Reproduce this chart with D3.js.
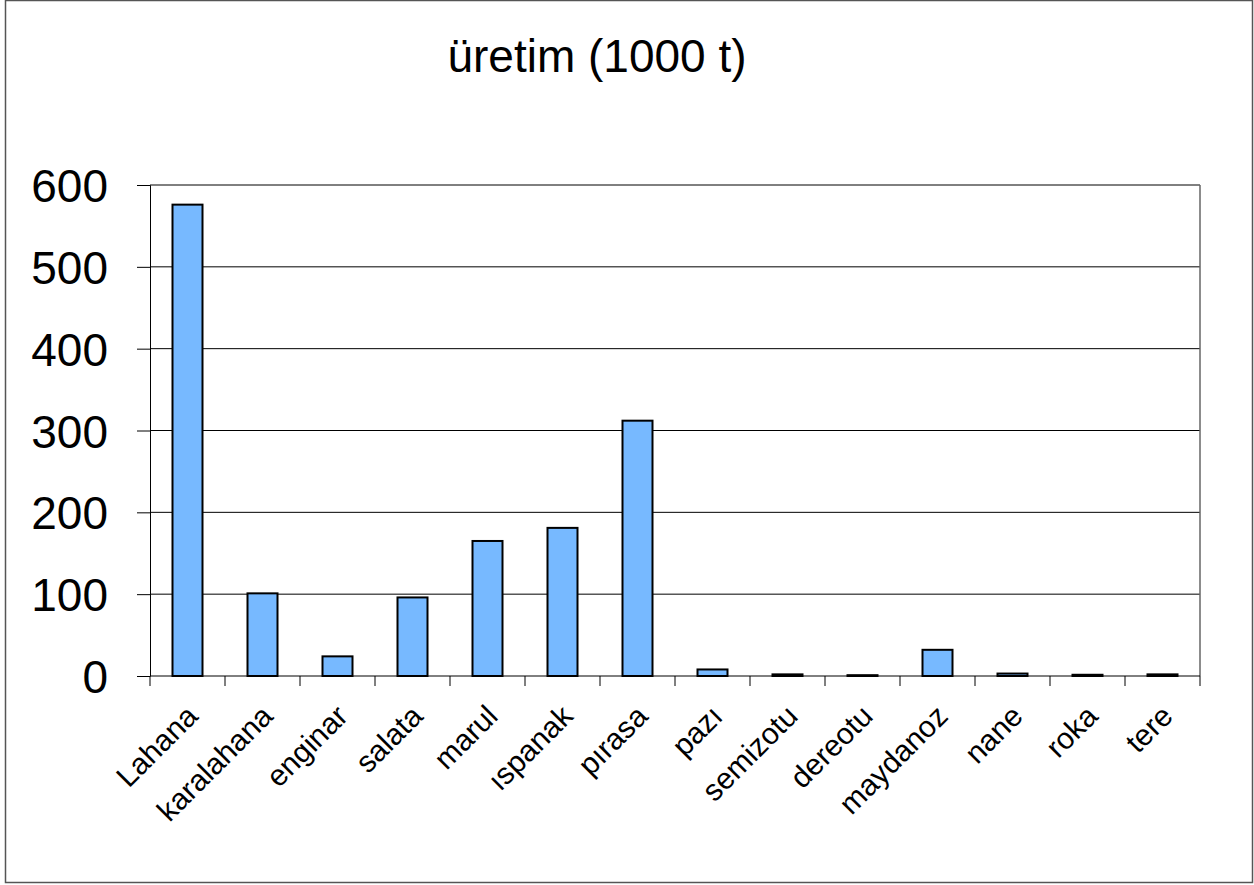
<!DOCTYPE html>
<html>
<head>
<meta charset="utf-8">
<script src="https://cdn.jsdelivr.net/npm/d3@7"></script>
<style>
  body { margin: 0; background: #fff; }
  svg { display: block; font-family: "Liberation Sans", Arial, sans-serif; }
</style>
</head>
<body>
<div id="chart"></div>
<script>
// data
var categories = ['Lahana', 'karalahana', 'enginar', 'salata', 'marul', 'ıspanak', 'pırasa',
  'pazı', 'semizotu', 'dereotu', 'maydanoz', 'nane', 'roka', 'tere'];
var production = [576, 101, 24, 96, 165, 181, 312, 8, 2, 1, 32, 3, 1.5, 2];
var yTicks = [0, 100, 200, 300, 400, 500, 600];

var fullWidth = 1254, fullHeight = 885;
var margin = {top: 185, right: 54, bottom: 209, left: 150};
var width = fullWidth - margin.left - margin.right;
var height = fullHeight - margin.top - margin.bottom;

var svg = d3.select('#chart').append('svg')
  .attr('width', fullWidth)
  .attr('height', fullHeight);

// outer frame
svg.append('rect')
  .attr('x', 5.5).attr('y', 0.5)
  .attr('width', fullWidth - 7).attr('height', fullHeight - 3)
  .attr('fill', '#fff')
  .attr('stroke', '#555')
  .attr('stroke-width', 1.5);

svg.append('text')
  .attr('x', 597).attr('y', 72)
  .attr('text-anchor', 'middle')
  .style('font-size', '46px')
  .text('üretim (1000 t)');

var g = svg.append('g')
  .attr('transform', 'translate(' + margin.left + ',' + margin.top + ')');

var x = d3.scaleBand()
  .domain(categories)
  .range([0, width])
  .paddingInner(0.6)
  .paddingOuter(0.3);

var y = d3.scaleLinear()
  .domain([0, 600])
  .range([height, 0]);

// gridlines
g.selectAll('line.grid')
  .data(yTicks.slice(1))
  .enter().append('line')
  .attr('class', 'grid')
  .attr('x1', 0).attr('x2', width)
  .attr('y1', function(d) { return y(d); })
  .attr('y2', function(d) { return y(d); })
  .attr('stroke', '#000')
  .attr('stroke-width', 1);

// right edge of plot area
g.append('line')
  .attr('x1', width).attr('x2', width)
  .attr('y1', 0).attr('y2', height)
  .attr('stroke', '#666')
  .attr('stroke-width', 1.5);

// bars
g.selectAll('rect.bar')
  .data(production)
  .enter().append('rect')
  .attr('class', 'bar')
  .attr('x', function(d, i) { return x(categories[i]); })
  .attr('width', x.bandwidth())
  .attr('y', function(d) { return y(d); })
  .attr('height', function(d) { return height - y(d); })
  .attr('fill', '#77b9ff')
  .attr('stroke', '#000')
  .attr('stroke-width', 2);

// y axis
var yAxis = d3.axisLeft(y).tickValues(yTicks).tickSize(13).tickPadding(29);
var yAxisEle = g.append('g').call(yAxis);
yAxisEle.select('.domain').attr('stroke', '#000').attr('d', 'M-13,0.5H0.5V' + (height + 0.5));
yAxisEle.selectAll('.tick line').attr('stroke', '#000');
yAxisEle.selectAll('.tick text')
  .style('font-size', '46px')
  .attr('fill', '#000')
  .attr('dy', '0.36em')
  .attr('font-family', '"Liberation Sans", Arial, sans-serif');

// x axis: ticks at category boundaries
var step = x.step();
var boundaries = d3.range(categories.length + 1).map(function(i) { return i * step; });
var xAxisEle = g.append('g').attr('transform', 'translate(0,' + height + ')');
xAxisEle.append('line')
  .attr('x1', 0).attr('x2', width)
  .attr('stroke', '#000').attr('stroke-width', 1);
xAxisEle.selectAll('line.tick')
  .data(boundaries)
  .enter().append('line')
  .attr('class', 'tick')
  .attr('x1', function(d) { return d; })
  .attr('x2', function(d) { return d; })
  .attr('y1', 0).attr('y2', 10)
  .attr('stroke', '#000');

xAxisEle.selectAll('text.lbl')
  .data(categories)
  .enter().append('text')
  .attr('class', 'lbl')
  .attr('text-anchor', 'end')
  .attr('transform', function(d) {
    return 'translate(' + (x(d) + x.bandwidth() / 2 + 12) + ',42) rotate(-45)';
  })
  .style('font-size', '30px')
  .text(function(d) { return d; });
</script>
</body>
</html>
